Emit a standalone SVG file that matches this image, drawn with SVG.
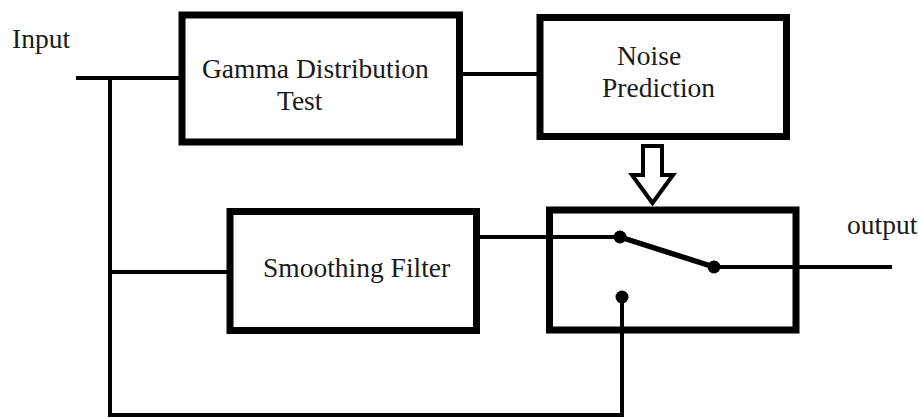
<svg xmlns="http://www.w3.org/2000/svg" width="919" height="418" viewBox="0 0 919 418">
<style>
.box{fill:#fff;stroke:#000;stroke-width:7}
.wire{fill:none;stroke:#000;stroke-width:4}
.lever{fill:none;stroke:#000;stroke-width:5.5}
.dot{fill:#000}
text{font-family:"Liberation Serif","Times New Roman",serif;font-size:27.5px;fill:#1a1a1a}
</style>
<rect width="919" height="418" fill="#fff"/>
<g id="gamma">
<rect class="box" x="182" y="15" width="277.5" height="127"/>
<text x="202" y="78">Gamma Distribution</text>
<text x="277" y="110">Test</text>
</g>
<g id="noise">
<rect class="box" x="540" y="17.5" width="246.5" height="119"/>
<text x="617" y="65">Noise</text>
<text x="602" y="97">Prediction</text>
</g>
<g id="smoothing">
<rect class="box" x="230" y="211.5" width="246.5" height="119"/>
<text x="263" y="277">Smoothing Filter</text>
</g>
<g id="switch">
<rect class="box" x="549.5" y="210" width="246.5" height="120"/>
</g>
<g id="connectors">
<polyline class="wire" points="76,78 182,78"/>
<polyline class="wire" points="110,78 110,415 622,415 622,297"/>
<polyline class="wire" points="110,272 230,272"/>
<polyline class="wire" points="459,74 540,74"/>
<polyline class="wire" points="477,237 620,237"/>
<polyline class="wire" points="714,267 892,267"/>
<polygon class="wire" points="643,146 662,146 662,175 673,175 652.5,203 632,175 643,175"/>
<line class="lever" x1="620" y1="237" x2="714" y2="267"/>
<circle class="dot" cx="620" cy="237" r="6.5"/>
<circle class="dot" cx="714" cy="267" r="6.5"/>
<circle class="dot" cx="622" cy="297" r="6.5"/>
</g>
<g id="input-label"><text x="12" y="48">Input</text></g>
<g id="output-label"><text x="847" y="234">output</text></g>
</svg>
